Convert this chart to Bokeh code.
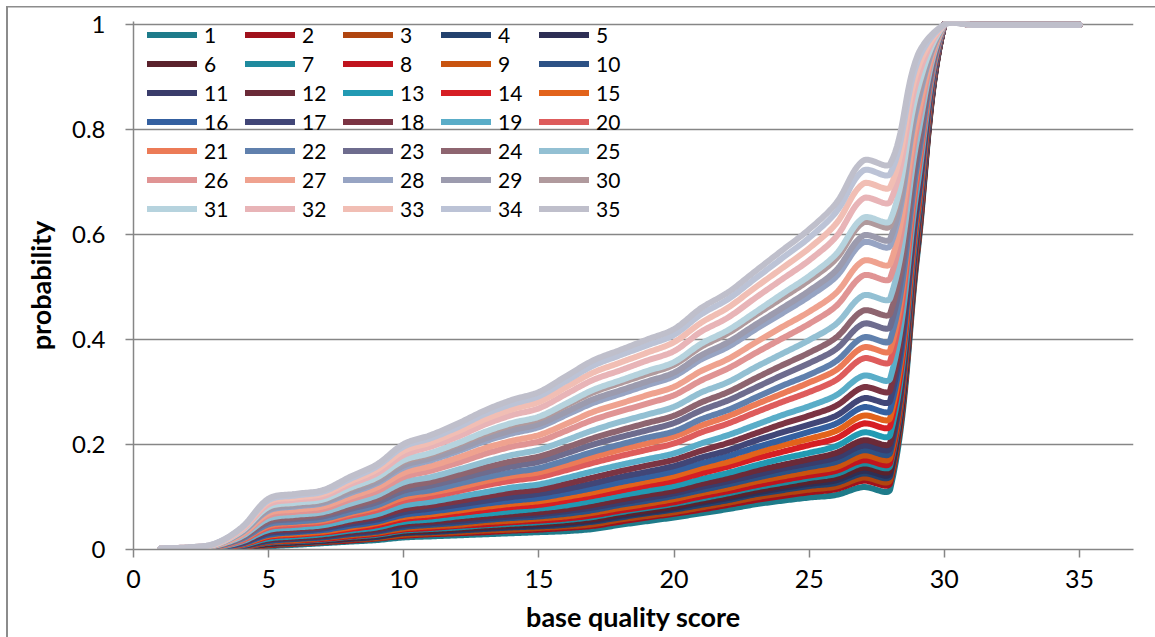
import numpy as np
from bokeh.plotting import figure
from bokeh.models import Legend, LegendItem, FixedTicker, CustomJSTickFormatter
from bokeh.embed import file_html
from bokeh.resources import INLINE

# base quality score (x)
quality = list(range(1, 36))
x_ticks = [0, 5, 10, 15, 20, 25, 30, 35]
y_ticks = [0, 0.2, 0.4, 0.6, 0.8, 1]
labels = [str(i) for i in range(1, 36)]

s1 = [0.000,0.000,0.001,0.001,0.006,0.009,0.012,0.015,0.018,0.023,0.025,0.027,0.029,0.031,0.033,0.035,0.039,0.047,0.054,0.061,0.069,0.077,0.086,0.093,0.099,0.104,0.119,0.115,0.560,1,1,1,1,1,1]
s2 = [0.000,0.000,0.001,0.002,0.008,0.011,0.014,0.017,0.021,0.026,0.029,0.031,0.033,0.036,0.038,0.041,0.045,0.053,0.061,0.068,0.076,0.085,0.094,0.102,0.109,0.115,0.131,0.127,0.567,1,1,1,1,1,1]
s3 = [0.000,0.000,0.001,0.002,0.009,0.012,0.015,0.019,0.022,0.028,0.031,0.033,0.036,0.038,0.041,0.044,0.048,0.057,0.064,0.071,0.080,0.089,0.099,0.107,0.114,0.120,0.137,0.133,0.571,1,1,1,1,1,1]
s4 = [0.000,0.000,0.001,0.003,0.010,0.013,0.016,0.020,0.024,0.031,0.033,0.036,0.039,0.042,0.044,0.047,0.053,0.061,0.069,0.076,0.085,0.094,0.105,0.113,0.121,0.127,0.145,0.141,0.576,1,1,1,1,1,1]
s5 = [0.000,0.000,0.002,0.003,0.011,0.014,0.017,0.021,0.025,0.032,0.035,0.038,0.041,0.044,0.046,0.050,0.055,0.064,0.071,0.079,0.089,0.098,0.108,0.117,0.125,0.132,0.150,0.146,0.579,1,1,1,1,1,1]
s6 = [0.000,0.000,0.002,0.003,0.011,0.015,0.018,0.022,0.027,0.034,0.036,0.040,0.043,0.046,0.049,0.052,0.058,0.067,0.074,0.082,0.092,0.101,0.112,0.121,0.129,0.137,0.156,0.152,0.582,1,1,1,1,1,1]
s7 = [0.000,0.000,0.002,0.004,0.013,0.016,0.019,0.024,0.028,0.036,0.039,0.042,0.046,0.049,0.052,0.056,0.062,0.071,0.079,0.087,0.097,0.107,0.118,0.127,0.136,0.144,0.164,0.160,0.587,1,1,1,1,1,1]
s8 = [0.000,0.000,0.002,0.004,0.014,0.017,0.020,0.025,0.030,0.038,0.041,0.045,0.048,0.052,0.055,0.059,0.065,0.074,0.082,0.090,0.101,0.111,0.122,0.132,0.141,0.150,0.170,0.166,0.591,1,1,1,1,1,1]
s9 = [0.000,0.000,0.002,0.005,0.015,0.018,0.022,0.027,0.032,0.040,0.044,0.047,0.052,0.055,0.059,0.063,0.070,0.079,0.087,0.096,0.107,0.117,0.129,0.139,0.148,0.157,0.179,0.175,0.597,1,1,1,1,1,1]
s10 = [0.000,0.000,0.002,0.006,0.016,0.020,0.023,0.029,0.034,0.043,0.047,0.051,0.056,0.060,0.063,0.068,0.075,0.085,0.093,0.102,0.113,0.124,0.136,0.147,0.157,0.167,0.189,0.185,0.603,1,1,1,1,1,1]
s11 = [0.000,0.001,0.002,0.006,0.018,0.021,0.025,0.031,0.036,0.046,0.050,0.054,0.059,0.063,0.067,0.073,0.080,0.089,0.098,0.107,0.119,0.130,0.142,0.154,0.164,0.175,0.198,0.194,0.608,1,1,1,1,1,1]
s12 = [0.000,0.001,0.002,0.007,0.019,0.023,0.026,0.033,0.039,0.049,0.053,0.058,0.063,0.067,0.071,0.077,0.085,0.095,0.104,0.112,0.125,0.136,0.150,0.161,0.172,0.184,0.208,0.204,0.614,1,1,1,1,1,1]
s13 = [0.000,0.001,0.003,0.008,0.021,0.025,0.029,0.036,0.042,0.053,0.057,0.063,0.068,0.073,0.078,0.084,0.093,0.103,0.112,0.121,0.134,0.146,0.160,0.173,0.184,0.197,0.223,0.219,0.624,1,1,1,1,1,1]
s14 = [0.000,0.001,0.003,0.009,0.024,0.028,0.032,0.039,0.046,0.058,0.063,0.069,0.075,0.081,0.085,0.093,0.102,0.112,0.122,0.131,0.145,0.158,0.173,0.186,0.199,0.212,0.240,0.236,0.634,1,1,1,1,1,1]
s15 = [0.000,0.001,0.003,0.010,0.026,0.030,0.034,0.042,0.050,0.062,0.067,0.074,0.081,0.087,0.092,0.100,0.109,0.120,0.130,0.140,0.155,0.167,0.183,0.198,0.211,0.226,0.255,0.251,0.643,1,1,1,1,1,1]
s16 = [0.000,0.001,0.003,0.011,0.028,0.033,0.037,0.045,0.053,0.066,0.072,0.079,0.087,0.093,0.098,0.107,0.117,0.128,0.138,0.149,0.164,0.178,0.194,0.209,0.224,0.240,0.271,0.266,0.653,1,1,1,1,1,1]
s17 = [0.001,0.001,0.004,0.012,0.031,0.035,0.040,0.049,0.057,0.071,0.078,0.085,0.093,0.100,0.106,0.115,0.126,0.138,0.148,0.159,0.175,0.189,0.207,0.223,0.238,0.255,0.288,0.284,0.663,1,1,1,1,1,1]
s18 = [0.001,0.001,0.004,0.014,0.034,0.039,0.043,0.053,0.062,0.077,0.084,0.092,0.101,0.109,0.114,0.125,0.137,0.149,0.160,0.171,0.188,0.203,0.221,0.239,0.255,0.274,0.309,0.304,0.676,1,1,1,1,1,1]
s19 = [0.001,0.001,0.004,0.015,0.037,0.042,0.046,0.057,0.067,0.084,0.091,0.100,0.109,0.118,0.124,0.136,0.149,0.161,0.172,0.183,0.202,0.218,0.237,0.256,0.273,0.294,0.331,0.326,0.690,1,1,1,1,1,1]
s20 = [0.001,0.002,0.005,0.017,0.042,0.047,0.052,0.064,0.075,0.093,0.101,0.111,0.122,0.131,0.138,0.151,0.165,0.178,0.190,0.202,0.223,0.240,0.261,0.281,0.300,0.323,0.364,0.359,0.710,1,1,1,1,1,1]
s21 = [0.001,0.002,0.005,0.019,0.045,0.051,0.055,0.068,0.080,0.099,0.108,0.118,0.130,0.140,0.147,0.161,0.176,0.190,0.202,0.215,0.236,0.254,0.276,0.297,0.318,0.342,0.385,0.380,0.723,1,1,1,1,1,1]
s22 = [0.001,0.002,0.006,0.020,0.048,0.053,0.058,0.071,0.084,0.105,0.113,0.125,0.137,0.147,0.155,0.170,0.186,0.200,0.213,0.225,0.248,0.266,0.289,0.312,0.333,0.359,0.404,0.399,0.734,1,1,1,1,1,1]
s23 = [0.001,0.002,0.006,0.022,0.052,0.058,0.063,0.077,0.090,0.112,0.122,0.134,0.147,0.158,0.167,0.183,0.200,0.214,0.227,0.241,0.265,0.284,0.308,0.332,0.355,0.382,0.430,0.425,0.750,1,1,1,1,1,1]
s24 = [0.001,0.002,0.006,0.023,0.055,0.061,0.067,0.081,0.096,0.119,0.129,0.142,0.156,0.168,0.177,0.194,0.212,0.227,0.241,0.255,0.280,0.300,0.326,0.351,0.375,0.404,0.455,0.450,0.765,1,1,1,1,1,1]
s25 = [0.001,0.002,0.007,0.025,0.059,0.066,0.071,0.087,0.103,0.128,0.138,0.152,0.167,0.180,0.190,0.208,0.227,0.243,0.257,0.272,0.299,0.319,0.347,0.373,0.399,0.430,0.484,0.479,0.783,1,1,1,1,1,1]
s26 = [0.001,0.003,0.008,0.028,0.065,0.072,0.077,0.095,0.111,0.138,0.150,0.165,0.182,0.196,0.206,0.226,0.247,0.263,0.278,0.294,0.322,0.345,0.374,0.402,0.430,0.464,0.522,0.517,0.806,1,1,1,1,1,1]
s27 = [0.001,0.003,0.008,0.029,0.069,0.076,0.082,0.100,0.118,0.146,0.159,0.175,0.193,0.207,0.218,0.239,0.262,0.278,0.294,0.310,0.340,0.363,0.394,0.424,0.453,0.489,0.550,0.545,0.823,1,1,1,1,1,1]
s28 = [0.002,0.003,0.009,0.032,0.074,0.082,0.088,0.107,0.126,0.156,0.170,0.187,0.206,0.221,0.233,0.256,0.279,0.296,0.313,0.330,0.362,0.386,0.419,0.450,0.482,0.520,0.585,0.579,0.845,1,1,1,1,1,1]
s29 = [0.002,0.003,0.009,0.033,0.076,0.084,0.090,0.110,0.129,0.160,0.174,0.191,0.211,0.227,0.239,0.262,0.286,0.303,0.320,0.337,0.370,0.395,0.428,0.460,0.493,0.532,0.598,0.592,0.853,1,1,1,1,1,1]
s30 = [0.002,0.003,0.009,0.034,0.080,0.088,0.094,0.115,0.135,0.167,0.181,0.200,0.220,0.237,0.249,0.274,0.299,0.317,0.334,0.352,0.386,0.412,0.446,0.479,0.513,0.554,0.623,0.617,0.868,1,1,1,1,1,1]
s31 = [0.002,0.003,0.009,0.035,0.081,0.089,0.095,0.117,0.137,0.170,0.184,0.203,0.224,0.241,0.253,0.278,0.304,0.322,0.340,0.357,0.392,0.418,0.452,0.487,0.521,0.563,0.632,0.627,0.874,1,1,1,1,1,1]
s32 = [0.002,0.004,0.010,0.037,0.086,0.095,0.101,0.124,0.145,0.180,0.196,0.215,0.238,0.256,0.269,0.296,0.323,0.341,0.360,0.378,0.415,0.442,0.479,0.515,0.551,0.596,0.669,0.663,0.896,1,1,1,1,1,1]
s33 = [0.002,0.004,0.010,0.039,0.091,0.099,0.106,0.129,0.152,0.188,0.204,0.225,0.248,0.267,0.281,0.309,0.337,0.356,0.375,0.395,0.432,0.461,0.499,0.536,0.574,0.621,0.697,0.691,0.913,1,1,1,1,1,1]
s34 = [0.002,0.004,0.011,0.041,0.094,0.103,0.110,0.134,0.158,0.196,0.212,0.233,0.258,0.277,0.292,0.321,0.350,0.370,0.389,0.409,0.448,0.477,0.516,0.555,0.594,0.643,0.722,0.716,0.928,1,1,1,1,1,1]
s35 = [0.002,0.004,0.011,0.042,0.097,0.106,0.113,0.138,0.162,0.201,0.218,0.240,0.265,0.285,0.300,0.330,0.360,0.380,0.400,0.420,0.460,0.490,0.530,0.570,0.610,0.660,0.741,0.735,0.940,1,1,1,1,1,1]

series = [s1, s2, s3, s4, s5, s6, s7, s8, s9, s10, s11, s12, s13, s14, s15, s16, s17, s18,
          s19, s20, s21, s22, s23, s24, s25, s26, s27, s28, s29, s30, s31, s32, s33, s34, s35]

colors = ["#1E7B8A", "#A0111C", "#B0450F", "#23426E", "#2E2F55",
          "#5A222C", "#1F8A9E", "#C0141E", "#C9540F", "#2C5185",
          "#3A3C6B", "#6B2A38", "#229AB3", "#D61E24", "#E2631B",
          "#3460A0", "#414677", "#7B3443", "#5AADC8", "#DE5C5C",
          "#EC7B57", "#6080AD", "#6E6C8E", "#8E6570", "#93C0D3",
          "#E09494", "#EFA28F", "#97A4C3", "#9C9BAE", "#B09A9D",
          "#B6D3DE", "#E8B4B7", "#F1BEB4", "#BCC3D6", "#BFBFCB"]

X0, X1 = 0, 37
Y0, Y1 = 0, 1.006
FRAME_W, FRAME_H = 1000, 528
XS = FRAME_W / (X1 - X0)
YS = FRAME_H / (Y1 - Y0)


def smooth(xs, ys, n=16):
    """Spreadsheet-style smoothed line (chord scaled Bezier through the points)."""
    P = np.column_stack([np.asarray(xs, float) * XS, np.asarray(ys, float) * YS])
    m = len(P)
    d = np.linalg.norm(np.diff(P, axis=0), axis=1)
    out = [P[0]]
    t = np.linspace(0, 1, n + 1)[1:, None]
    for i in range(m - 1):
        p0, p1 = P[i], P[i + 1]
        pm = P[i - 1] if i > 0 else P[i]
        pp = P[i + 2] if i + 2 < m else P[i + 1]
        dm = d[i - 1] if i > 0 else d[i]
        dp = d[i + 1] if i + 1 < m - 1 else d[i]
        c1 = p0 + (p1 - pm) * (d[i] / (dm + d[i])) / 3.0
        c2 = p1 - (pp - p0) * (d[i] / (d[i] + dp)) / 3.0
        B = (1 - t) ** 3 * p0 + 3 * (1 - t) ** 2 * t * c1 + 3 * (1 - t) * t ** 2 * c2 + t ** 3 * p1
        out.extend(B)
    out = np.array(out)
    return out[:, 0] / XS, out[:, 1] / YS


p = figure(width=1149, height=631, x_range=(X0, X1), y_range=(Y0, Y1),
           output_backend="svg", toolbar_location=None,
           min_border_left=127, min_border_right=22, min_border_top=15, min_border_bottom=88)
p.margin = (6, 0, 0, 6)
p.styles = {"box-shadow": "inset 2px 1.5px 0 0 #8c8c8c"}
p.outline_line_color = None
p.background_fill_color = "white"
p.border_fill_alpha = 0

GREY = "#868686"
p.xgrid.visible = False
p.ygrid.grid_line_color = GREY
p.ygrid.grid_line_width = 1.5
p.ygrid.ticker = FixedTicker(ticks=y_ticks)

p.xaxis.ticker = FixedTicker(ticks=x_ticks)
p.yaxis.ticker = FixedTicker(ticks=y_ticks)
p.yaxis.formatter = CustomJSTickFormatter(code="return tick.toString()")
for ax in (p.xaxis[0], p.yaxis[0]):
    ax.axis_line_color = GREY
    ax.axis_line_width = 1.5
    ax.major_tick_line_color = GREY
    ax.major_tick_line_width = 1.5
    ax.major_tick_out = 8
    ax.major_tick_in = 0
    ax.minor_tick_line_color = None
    ax.major_label_text_font = "Lato"
    ax.major_label_text_font_size = "24px"
    ax.major_label_text_color = "#000000"
    ax.axis_label_text_font = "Lato"
    ax.axis_label_text_font_size = "27px"
    ax.axis_label_text_font_style = "bold"
    ax.axis_label_text_color = "#000000"

p.xaxis.major_label_text_font_size = "25px"
p.xaxis.axis_label = "base quality score"
p.yaxis.axis_label = "probability"
p.xaxis.major_label_standoff = 12
p.yaxis.major_label_standoff = 20
p.xaxis.axis_label_standoff = 9
p.yaxis.axis_label_standoff = 12

items = []
for name, ys, c in zip(labels, series, colors):
    sx, sy = smooth(quality, ys)
    r = p.line(sx, sy, line_color=c, line_width=6, line_cap="round", line_join="round")
    items.append(LegendItem(label=name, renderers=[r]))

legend = Legend(items=items, location=(14, 328), orientation="horizontal", ncols=5,
                glyph_width=50, glyph_height=25, label_standoff=7, label_width=37,
                label_height=25, spacing=4, padding=0, margin=0,
                label_text_font="Lato", label_text_font_size="21px",
                label_text_color="#000000",
                background_fill_alpha=0, border_line_alpha=0)
p.add_layout(legend)

open("out.html", "w").write(file_html(p, INLINE))
